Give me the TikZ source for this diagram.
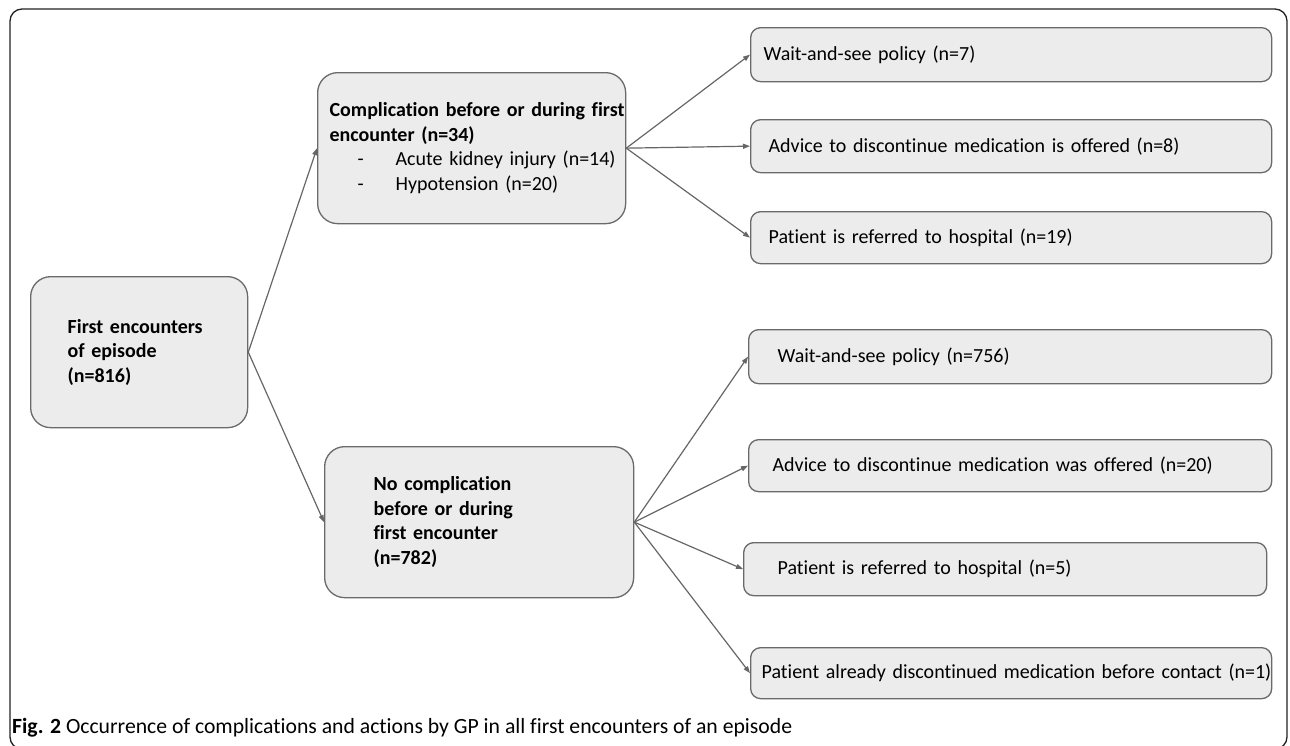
\documentclass[tikz,border=0pt]{standalone}
\usepackage{fontspec}
\setmainfont{Carlito}[Ligatures={TeX,NoCommon}]
\usetikzlibrary{arrows.meta}
\definecolor{boxfill}{HTML}{ECECEC}
\definecolor{boxline}{HTML}{6A6A6A}
\definecolor{lineclr}{HTML}{666666}
\definecolor{frameclr}{HTML}{222222}
\tikzset{
  lpad/.style={execute at begin node={\leftskip=#1pt\relax}},
  basebox/.style={draw=boxline, fill=boxfill, line width=1.3pt, anchor=north west,
    inner xsep=0pt, inner ysep=0pt, align=left,
    font=\fontsize{20}{24.5}\selectfont},
  bigbox/.style n args={4}{basebox, rounded corners=20pt, text width=#1pt,
    minimum width=#1pt, minimum height=#2pt, lpad=#3, font=\fontsize{20}{24.5}\selectfont#4},
  smallbox/.style n args={3}{basebox, rounded corners=10pt, text width=#1pt,
    minimum width=#1pt, minimum height=#2pt, lpad=#3},
  conn/.style={draw=lineclr, line width=1.2pt, -{Triangle[length=7pt,width=5pt]}},
  captext/.style={anchor=base west, inner sep=0pt, font=\fontsize{21.7}{26}\selectfont}
}
\begin{document}
\begin{tikzpicture}[x=1pt,y=-1pt]
\useasboundingbox (0,0) rectangle (1290,745);
\draw[frameclr, line width=1.3pt, rounded corners=12pt] (10,9) rectangle (1287,749);

\node[bigbox={217}{151}{37}{\bfseries}] (first) at (30,276)
  {First encounters\\of episode\\(n=816)};
\node[bigbox={308}{151}{12}{}] (comp) at (317,72)
  {\textbf{Complication before or during first}\\\textbf{encounter (n=34)}\\
   \makebox[66pt][l]{\hspace*{28pt}-}Acute kidney injury (n=14)\\
   \makebox[66pt][l]{\hspace*{28pt}-}Hypotension (n=20)\par\vspace*{11pt}};
\node[bigbox={309}{151}{49}{\bfseries}] (nocomp) at (324,446)
  {No complication\\before or during\\first encounter\\(n=782)};

\node[smallbox={521}{54}{13}] (r1) at (750,27) {Wait-and-see policy (n=7)};
\node[smallbox={521}{53}{18}] (r2) at (750,119) {Advice to discontinue medication is offered (n=8)};
\node[smallbox={521}{52}{18}] (r3) at (750,211) {Patient is referred to hospital (n=19)};
\node[smallbox={523}{54}{29}] (r4) at (748,329) {Wait-and-see policy (n=756)};
\node[smallbox={523}{52}{24}] (r5) at (748,439) {Advice to discontinue medication was offered (n=20)};
\node[smallbox={523}{53}{34}] (r6) at (743,542) {Patient is referred to hospital (n=5)};
\node[smallbox={521}{51}{11}] (r7) at (750,647) {Patient already discontinued medication before contact (n=1)};

\draw[conn] (first.east) -- (comp.west);
\draw[conn] (first.east) -- (nocomp.west);
\draw[conn] (comp.east) -- (r1.west);
\draw[conn] (comp.east) -- (r2.west);
\draw[conn] (comp.east) -- (r3.west);
\draw[conn] (nocomp.east) -- (r4.west);
\draw[conn] (nocomp.east) -- (r5.west);
\draw[conn] (nocomp.east) -- (r6.west);
\draw[conn] (nocomp.east) -- (r7.west);

\node[captext] (caption) at (12,733) {\textbf{Fig. 2} Occurrence of complications and actions by GP in all first encounters of an episode};
\end{tikzpicture}
\end{document}
